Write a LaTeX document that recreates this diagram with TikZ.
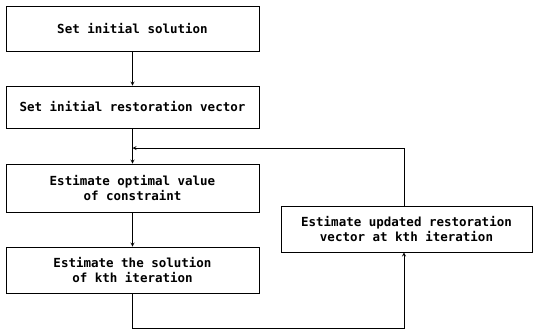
\documentclass[tikz,border=0pt]{standalone}
\usepackage{fontspec}
\setmonofont{DejaVu Sans Mono}
\tikzset{
  stepbox/.style={draw, line width=0.8pt, minimum width=253pt, minimum height=45pt,
    align=center, inner sep=2pt, font=\ttfamily\bfseries\fontsize{12.5}{15.5}\selectfont},
  link/.style={->, line width=0.8pt}
}
\begin{document}
\begin{tikzpicture}[x=1pt, y=-1pt, >=stealth]
    \useasboundingbox (0, 0) rectangle (534, 330);

    \node[stepbox] (sol) at (132.5, 28.5) {Set initial solution};
    \node[stepbox, minimum height=42pt] (rvec) at (132.5, 107) {Set initial restoration vector};
    \node[stepbox, minimum height=48pt] (opt) at (132.5, 188) {Estimate optimal value\\of constraint};
    \node[stepbox, minimum height=46pt] (kth) at (132.5, 270) {Estimate the solution\\of kth iteration};
    \node[stepbox, minimum width=251pt, minimum height=46pt] (upd) at (406.5, 229)
      {Estimate updated restoration\\vector at kth iteration};

    \coordinate (join) at (132.5, 148);
    \coordinate (loopT) at (404, 148);
    \coordinate (loopB) at (404, 328);

    \draw[link] (sol) -- (rvec);
    \draw[link] (rvec) -- (opt);
    \draw[link] (opt) -- (kth);
    \draw[link] (kth.south) |- (loopB) -- (loopB |- upd.south);
    \draw[link] (loopT |- upd.north) -- (loopT) -- (join);
  \end{tikzpicture}
\end{document}
